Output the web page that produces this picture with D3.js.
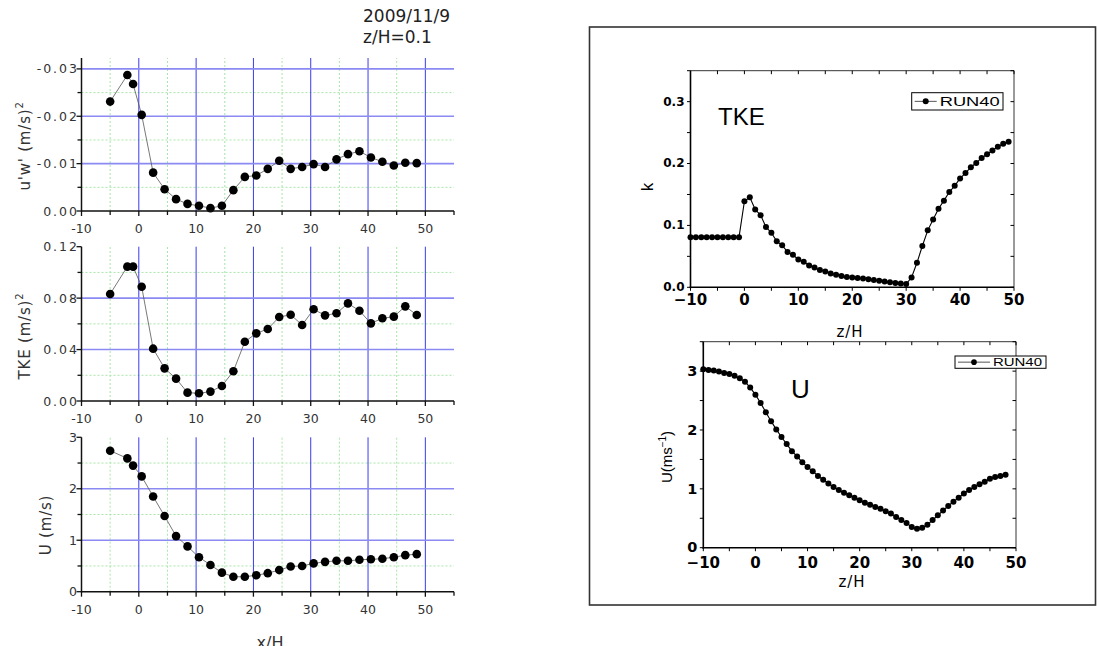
<!DOCTYPE html>
<html>
<head>
<meta charset="utf-8">
<script src="https://cdnjs.cloudflare.com/ajax/libs/d3/7.8.5/d3.min.js"></script>
<style>
  body { margin: 0; background: #fff; }
  svg { display: block; }
</style>
</head>
<body>
<svg></svg>
<script>
// field measurements (left column), 2009/11/9, z/H=0.1
var xObs = [-5, -2, -1, 0.5, 2.5, 4.5, 6.5, 8.5, 10.5, 12.5, 14.5, 16.5, 18.5, 20.5,
  22.5, 24.5, 26.5, 28.5, 30.5, 32.5, 34.5, 36.5, 38.5, 40.5, 42.5, 44.5, 46.5, 48.5];
var uwObs = [-0.0231, -0.0287, -0.0268, -0.0203, -0.0081, -0.0046, -0.0025, -0.0015, -0.0011,
  -0.0006, -0.0011, -0.0044, -0.0072, -0.0075, -0.0089, -0.0106, -0.0089, -0.0093, -0.0099,
  -0.0093, -0.0109, -0.0120, -0.0126, -0.0113, -0.0104, -0.0096, -0.0102, -0.0101];
var tkeObs = [0.0832, 0.1045, 0.1045, 0.0889, 0.0407, 0.0254, 0.0174, 0.0065, 0.0060, 0.0073,
  0.0117, 0.0231, 0.0461, 0.0526, 0.0560, 0.0653, 0.0671, 0.0591, 0.0713, 0.0666, 0.0682,
  0.0759, 0.0702, 0.0604, 0.0643, 0.0656, 0.0736, 0.0669];
var uObs = [2.74, 2.59, 2.45, 2.24, 1.85, 1.47, 1.08, 0.88, 0.67, 0.52, 0.37, 0.29, 0.29, 0.32,
  0.36, 0.42, 0.49, 0.50, 0.55, 0.58, 0.60, 0.60, 0.62, 0.63, 0.64, 0.67, 0.71, 0.73];

// model run RUN40 (right column)
var xRun = [-10, -9, -8, -7, -6, -5, -4, -3, -2, -1, 0, 1, 2, 3, 4, 5, 6, 7, 8, 9,
  10, 11, 12, 13, 14, 15, 16, 17, 18, 19, 20, 21, 22, 23, 24, 25, 26, 27, 28, 29,
  30, 31, 32, 33, 34, 35, 36, 37, 38, 39, 40, 41, 42, 43, 44, 45, 46, 47, 48, 49];
var kRun = [0.081, 0.081, 0.081, 0.081, 0.081, 0.081, 0.081, 0.081, 0.081, 0.081,
  0.139, 0.1455, 0.1257, 0.1166, 0.0973, 0.0882, 0.0743, 0.0679, 0.0572, 0.0524,
  0.0449, 0.0412, 0.0353, 0.0321, 0.0278, 0.0257, 0.0225, 0.0203, 0.0182, 0.0166,
  0.0160, 0.0152, 0.0143, 0.0131, 0.0118, 0.0105, 0.0093, 0.0080, 0.0069, 0.0060,
  0.0053, 0.016, 0.0396, 0.0668, 0.092, 0.1096, 0.127, 0.140, 0.154, 0.164,
  0.176, 0.1845, 0.194, 0.201, 0.209, 0.215, 0.221, 0.227, 0.232, 0.235];
var uRun = [3.03, 3.02, 3.01, 2.995, 2.97, 2.95, 2.92, 2.88, 2.82, 2.72,
  2.60, 2.46, 2.30, 2.15, 2.01, 1.88, 1.76, 1.64, 1.55, 1.45,
  1.37, 1.30, 1.22, 1.155, 1.09, 1.03, 0.98, 0.935, 0.89, 0.85,
  0.806, 0.765, 0.73, 0.693, 0.66, 0.62, 0.58, 0.52, 0.47, 0.42,
  0.35, 0.32, 0.34, 0.39, 0.47, 0.55, 0.63, 0.71, 0.78, 0.85,
  0.92, 0.98, 1.03, 1.08, 1.12, 1.17, 1.20, 1.22, 1.24];

// tick values
var xTicksObs = [-10, 0, 10, 20, 30, 40, 50];
var xMinorObs = [-5, 5, 15, 25, 35, 45, 55];
var uwTicks = [0, -0.01, -0.02, -0.03], uwMinor = [-0.005, -0.015, -0.025];
var tkeTicks = [0, 0.04, 0.08, 0.12], tkeMinor = [0.02, 0.06, 0.10];
var uTicks = [0, 1, 2, 3], uMinor = [0.5, 1.5, 2.5];
var xTicksRun = [-10, 0, 10, 20, 30, 40, 50];
var xSmallRun = [-10, -5, 0, 5, 10, 15, 20, 25, 30, 35, 40, 45, 50];
var kTicks = [0, 0.1, 0.2, 0.3], kSmall = [0, 0.05, 0.1, 0.15, 0.2, 0.25, 0.3, 0.35];
var uRunTicks = [0, 1, 2, 3], uRunSmall = [0, 0.5, 1, 1.5, 2, 2.5, 3, 3.5];

var leftFont = "'DejaVu Sans', Verdana, sans-serif";
var rightFont = "'Liberation Sans', Arial, sans-serif";
var boldFont = "'DejaVu Sans', sans-serif";

var svg = d3.select('svg')
  .attr("width", 1097)
  .attr("height", 646);

// title block
svg.append("text")
  .attr("x", 363).attr("y", 22)
  .attr("font-family", leftFont).attr("font-size", 17).attr("fill", "#222")
  .text("2009/11/9");
svg.append("text")
  .attr("x", 363).attr("y", 43)
  .attr("font-family", leftFont).attr("font-size", 17).attr("fill", "#222")
  .text("z/H=0.1");

var xL = d3.scaleLinear().domain([-10, 55]).range([81.5, 454]);

/**
 * One of the three stacked panels on the left
 */
function drawLeft(y, vals, ticks, minor, fmt, label, sup, labelX, labelY) {
  var g = svg.append("g");
  var y0 = y.range()[0], yTop = y.range()[1];
  var x0 = xL.range()[0], x1 = xL.range()[1];
  var top = y.domain()[1];

  // minor grid (green dashed)
  g.selectAll(".gvx").data(xMinorObs.slice(0, -1)).enter().append("line")
    .attr("x1", function (d) { return xL(d); }).attr("x2", function (d) { return xL(d); })
    .attr("y1", y0).attr("y2", yTop)
    .attr("stroke", "#a8e6a8").attr("stroke-width", 1).attr("stroke-dasharray", "2,2");
  g.selectAll(".gvy").data(minor).enter().append("line")
    .attr("x1", x0).attr("x2", x1)
    .attr("y1", function (d) { return y(d); }).attr("y2", function (d) { return y(d); })
    .attr("stroke", "#a8e6a8").attr("stroke-width", 1).attr("stroke-dasharray", "2,2");

  // major grid (blue)
  g.selectAll(".bx").data(xTicksObs.slice(1)).enter().append("line")
    .attr("x1", function (d) { return xL(d); }).attr("x2", function (d) { return xL(d); })
    .attr("y1", y0).attr("y2", yTop)
    .attr("stroke", "#3a3af0").attr("stroke-width", 1);
  g.selectAll(".by").data(ticks.filter(function (d) { return d !== 0 && d !== top; })).enter().append("line")
    .attr("x1", x0).attr("x2", x1)
    .attr("y1", function (d) { return y(d); }).attr("y2", function (d) { return y(d); })
    .attr("stroke", "#8a8af2").attr("stroke-width", 1.6);

  var pts = d3.zip(xObs, vals);
  var line = d3.line()
    .x(function (d) { return xL(d[0]); })
    .y(function (d) { return y(d[1]); });
  g.append("path").datum(pts)
    .attr("fill", "none").attr("stroke", "#555").attr("stroke-width", 0.8)
    .attr("d", line);
  g.selectAll(".dot").data(pts).enter().append("circle")
    .attr("cx", function (d) { return xL(d[0]); })
    .attr("cy", function (d) { return y(d[1]); })
    .attr("r", 4.3).attr("fill", "#000");

  // axes
  g.append("line").attr("x1", x0).attr("x2", x0).attr("y1", y0 + 0.7).attr("y2", yTop)
    .attr("stroke", "#111").attr("stroke-width", 1.5);
  g.append("line").attr("x1", x0).attr("x2", x1).attr("y1", y0).attr("y2", y0)
    .attr("stroke", "#111").attr("stroke-width", 1.5);

  g.selectAll(".tx").data(xTicksObs.concat(xMinorObs)).enter().append("line")
    .attr("x1", function (d) { return xL(d); }).attr("x2", function (d) { return xL(d); })
    .attr("y1", y0).attr("y2", function (d) { return y0 + (d % 10 === 0 ? 5 : 4); })
    .attr("stroke", "#111").attr("stroke-width", 1.3);
  g.selectAll(".tl").data(xTicksObs).enter().append("text")
    .attr("x", function (d) { return xL(d); }).attr("y", y0 + 22)
    .attr("text-anchor", "middle")
    .attr("font-family", leftFont).attr("font-size", 12.5).attr("fill", "#333")
    .text(function (d) { return String(d); });

  g.selectAll(".ty").data(ticks.concat(minor)).enter().append("line")
    .attr("x1", x0).attr("x2", function (d) { return ticks.indexOf(d) >= 0 ? x0 - 5 : x0 - 4; })
    .attr("y1", function (d) { return y(d); }).attr("y2", function (d) { return y(d); })
    .attr("stroke", "#111").attr("stroke-width", 1.3);
  g.selectAll(".yl").data(ticks).enter().append("text")
    .attr("x", 79).attr("y", function (d) { return y(d); })
    .attr("dy", "0.36em").attr("text-anchor", "end")
    .attr("letter-spacing", 2)
    .attr("font-family", leftFont).attr("font-size", 12.5).attr("fill", "#333")
    .text(fmt);

  var lab = g.append("text")
    .attr("transform", "translate(" + labelX + "," + labelY + ") rotate(-90)")
    .attr("text-anchor", "middle")
    .attr("font-family", leftFont).attr("font-size", 15).attr("fill", "#333")
    .attr("letter-spacing", 0.8);
  lab.append("tspan").text(label);
  if (sup) {
    lab.append("tspan").attr("dy", -7).attr("font-size", 10).text(sup);
  }
}

drawLeft(d3.scaleLinear().domain([0, -0.0323]).range([211, 58]), uwObs, uwTicks, uwMinor,
  function (d) { return d.toFixed(2); }, "u'w' (m/s)", "2", 30, 146);
drawLeft(d3.scaleLinear().domain([0, 0.12]).range([401, 246.7]), tkeObs, tkeTicks, tkeMinor,
  function (d) { return d.toFixed(2); }, "TKE (m/s)", "2", 30, 336);
drawLeft(d3.scaleLinear().domain([0, 3]).range([591.7, 437.3]), uObs, uTicks, uMinor,
  function (d) { return String(d); }, "U (m/s)", null, 51, 525);

svg.append("text")
  .attr("x", 270).attr("y", 648)
  .attr("text-anchor", "middle")
  .attr("font-family", leftFont).attr("font-size", 16).attr("fill", "#333")
  .text("x/H");

// frame around the model results
svg.append("rect")
  .attr("x", 589.5).attr("y", 27).attr("width", 506).attr("height", 578)
  .attr("fill", "none").attr("stroke", "#333").attr("stroke-width", 1.6);

/**
 * One of the two RUN40 panels on the right
 */
function drawRight(x, y, vals, xt, xs, yt, ys, yFmt, yFont, xOff, legend) {
  var g = svg.append("g");
  var x0 = x.range()[0], x1 = x.range()[1];
  var y0 = y.range()[0], y1 = y.range()[1];

  var pts = d3.zip(xRun, vals);
  var line = d3.line()
    .x(function (d) { return x(d[0]); })
    .y(function (d) { return y(d[1]); });
  g.append("path").datum(pts)
    .attr("fill", "none").attr("stroke", "#000").attr("stroke-width", 1.1)
    .attr("d", line);
  g.selectAll(".dot").data(pts).enter().append("circle")
    .attr("cx", function (d) { return x(d[0]); })
    .attr("cy", function (d) { return y(d[1]); })
    .attr("r", 3).attr("fill", "#000");

  // frame: heavy left/bottom, light top/right
  g.append("line").attr("x1", x0).attr("x2", x1).attr("y1", y1).attr("y2", y1)
    .attr("stroke", "#000").attr("stroke-width", 0.8);
  g.append("line").attr("x1", x1).attr("x2", x1).attr("y1", y0).attr("y2", y1)
    .attr("stroke", "#000").attr("stroke-width", 0.8);
  g.append("line").attr("x1", x0).attr("x2", x0).attr("y1", y0 + 1).attr("y2", y1)
    .attr("stroke", "#000").attr("stroke-width", 1.6);
  g.append("line").attr("x1", x0 - 0.8).attr("x2", x1).attr("y1", y0).attr("y2", y0)
    .attr("stroke", "#000").attr("stroke-width", 1.6);

  g.selectAll(".tb").data(xs).enter().append("line")
    .attr("x1", function (d) { return x(d); }).attr("x2", function (d) { return x(d); })
    .attr("y1", y0).attr("y2", y0 + 3.5)
    .attr("stroke", "#000").attr("stroke-width", 1);
  g.selectAll(".tt").data(xs).enter().append("line")
    .attr("x1", function (d) { return x(d); }).attr("x2", function (d) { return x(d); })
    .attr("y1", y1).attr("y2", y1 + 3.5)
    .attr("stroke", "#000").attr("stroke-width", 1);
  g.selectAll(".tlft").data(ys).enter().append("line")
    .attr("x1", x0).attr("x2", x0 - 3.5)
    .attr("y1", function (d) { return y(d); }).attr("y2", function (d) { return y(d); })
    .attr("stroke", "#000").attr("stroke-width", 1);
  g.selectAll(".trgt").data(ys).enter().append("line")
    .attr("x1", x1).attr("x2", x1 - 3.5)
    .attr("y1", function (d) { return y(d); }).attr("y2", function (d) { return y(d); })
    .attr("stroke", "#000").attr("stroke-width", 1);

  g.selectAll(".xl").data(xt).enter().append("text")
    .attr("x", function (d) { return x(d); }).attr("y", y0 + xOff)
    .attr("text-anchor", "middle")
    .attr("font-family", boldFont).attr("font-weight", "bold").attr("font-size", 15)
    .text(d3.format("d"));
  g.selectAll(".yl").data(yt).enter().append("text")
    .attr("x", x0 - 6).attr("y", function (d) { return y(d); })
    .attr("dy", "0.33em").attr("text-anchor", "end")
    .attr("font-family", boldFont).attr("font-weight", "bold").attr("font-size", yFont)
    .text(yFmt);

  // legend
  var lg = g.append("g");
  lg.append("rect")
    .attr("x", legend.x).attr("y", legend.y).attr("width", legend.w).attr("height", legend.h)
    .attr("fill", "#fff").attr("stroke", "#000").attr("stroke-width", 1);
  lg.append("line")
    .attr("x1", legend.x + 3).attr("x2", legend.x + legend.line)
    .attr("y1", legend.y + legend.h / 2).attr("y2", legend.y + legend.h / 2)
    .attr("stroke", "#555").attr("stroke-width", 1);
  lg.append("circle")
    .attr("cx", legend.x + (legend.line + 3) / 2).attr("cy", legend.y + legend.h / 2)
    .attr("r", legend.r).attr("fill", "#000");
  lg.append("text")
    .attr("x", legend.x + legend.line + 3).attr("y", legend.y + legend.h / 2)
    .attr("dy", "0.36em")
    .attr("font-family", rightFont).attr("font-size", legend.fs)
    .attr("textLength", legend.tl).attr("lengthAdjust", "spacingAndGlyphs")
    .text("RUN40");
}

var xK = d3.scaleLinear().domain([-10, 50]).range([690.5, 1014]);
var yK = d3.scaleLinear().domain([0, 0.35]).range([287.3, 70.7]);
drawRight(xK, yK, kRun, xTicksRun, xSmallRun, kTicks, kSmall, d3.format(".1f"), 12, 18,
  { x: 911.7, y: 92.7, w: 91.3, h: 17.3, line: 25, r: 3, fs: 13, tl: 60 });

var xU = d3.scaleLinear().domain([-10, 50]).range([703.3, 1016]);
var yU = d3.scaleLinear().domain([0, 3.5]).range([547.7, 341.7]);
drawRight(xU, yU, uRun, xTicksRun, xSmallRun, uRunTicks, uRunSmall, d3.format("d"), 14.5, 20,
  { x: 955, y: 356, w: 91, h: 12.3, line: 35, r: 2.8, fs: 11, tl: 49 });

// panel titles and axis names
svg.append("text").attr("x", 718).attr("y", 125)
  .attr("font-family", rightFont).attr("font-size", 24).text("TKE");
svg.append("text").attr("x", 791).attr("y", 398)
  .attr("font-family", rightFont).attr("font-size", 26).text("U");

svg.append("text")
  .attr("transform", "translate(653,187) rotate(-90)")
  .attr("text-anchor", "middle")
  .attr("font-family", rightFont).attr("font-size", 17).text("k");

var ul = svg.append("text")
  .attr("transform", "translate(672,457) rotate(-90)")
  .attr("text-anchor", "middle")
  .attr("font-family", rightFont).attr("font-size", 15);
ul.append("tspan").text("U(ms");
ul.append("tspan").attr("dy", -6).attr("font-size", 10).text("\u22121");
ul.append("tspan").attr("dy", 6).text(")");

svg.append("text").attr("x", 850).attr("y", 337)
  .attr("text-anchor", "middle")
  .attr("font-family", boldFont).attr("font-size", 15).attr("letter-spacing", 1).text("z/H");
svg.append("text").attr("x", 852).attr("y", 587)
  .attr("text-anchor", "middle")
  .attr("font-family", boldFont).attr("font-size", 15).attr("letter-spacing", 1).text("z/H");
</script>
</body>
</html>
